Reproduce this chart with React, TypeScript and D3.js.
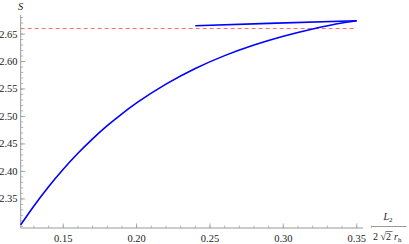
import React, { useEffect, useRef } from 'react';
import * as d3 from 'd3';

// lower branch of S against L2 / (2 sqrt2 rh)
const lowerX = [0.121, 0.13, 0.14, 0.15, 0.16, 0.17, 0.18, 0.19, 0.2, 0.22, 0.24, 0.26, 0.28, 0.3, 0.32, 0.34, 0.35];
const lowerS = [2.3027, 2.3372, 2.3722, 2.404, 2.433, 2.4593, 2.4832, 2.5049, 2.5247, 2.5589, 2.5873, 2.6107, 2.63, 2.646, 2.6592, 2.6701, 2.6742];

// upper branch, from the turning point back
const upperX = [0.35, 0.29, 0.24];
const upperS = [2.6742, 2.6694, 2.6652];

const plateau = 2.66;

const xTicks = [0.15, 0.2, 0.25, 0.3, 0.35];
const yTicks = [2.35, 2.4, 2.45, 2.5, 2.55, 2.6, 2.65];

function App() {
  const ref = useRef<SVGSVGElement>(null);

  useEffect(() => {
    const width = 409;
    const height = 244;
    const svg = d3.select(ref.current);
    svg.selectAll('*').remove();

    const x = d3.scaleLinear().domain([0.121, 0.35]).range([20.7, 356.7]);
    const y = d3.scaleLinear().domain([2.297, 2.675]).range([228, 20.3]);

    const axisColor = '#999';
    const font = "'Liberation Serif', 'DejaVu Serif', serif";

    // axes lines
    svg.append('line')
      .attr('x1', x(0.121)).attr('x2', 363)
      .attr('y1', y(2.297)).attr('y2', y(2.297))
      .attr('stroke', axisColor).attr('stroke-width', 1);
    svg.append('line')
      .attr('x1', x(0.121)).attr('x2', x(0.121))
      .attr('y1', y(2.297)).attr('y2', 15)
      .attr('stroke', axisColor).attr('stroke-width', 1);

    // minor and major ticks on x
    const xMinor = d3.range(0.13, 0.3601, 0.01);
    svg.selectAll('.xminor').data(xMinor).enter().append('line')
      .attr('x1', d => x(d)).attr('x2', d => x(d))
      .attr('y1', y(2.297)).attr('y2', y(2.297) - 2.5)
      .attr('stroke', axisColor).attr('stroke-width', 0.7);
    svg.selectAll('.xmajor').data(xTicks).enter().append('line')
      .attr('x1', d => x(d)).attr('x2', d => x(d))
      .attr('y1', y(2.297)).attr('y2', y(2.297) - 4.5)
      .attr('stroke', axisColor).attr('stroke-width', 0.8);
    svg.selectAll('.xlab').data(xTicks).enter().append('text')
      .attr('x', d => x(d)).attr('y', 242)
      .attr('text-anchor', 'middle')
      .attr('font-family', font).attr('font-size', 10.5).attr('fill', '#222')
      .text(d => d.toFixed(2));

    // ticks on y
    const yMinor = d3.range(2.30, 2.6801, 0.01);
    svg.selectAll('.yminor').data(yMinor).enter().append('line')
      .attr('x1', x(0.121)).attr('x2', x(0.121) + 2.5)
      .attr('y1', d => y(d)).attr('y2', d => y(d))
      .attr('stroke', axisColor).attr('stroke-width', 0.7);
    svg.selectAll('.ymajor').data(yTicks).enter().append('line')
      .attr('x1', x(0.121)).attr('x2', x(0.121) + 4.5)
      .attr('y1', d => y(d)).attr('y2', d => y(d))
      .attr('stroke', axisColor).attr('stroke-width', 0.8);
    svg.selectAll('.ylab').data(yTicks).enter().append('text')
      .attr('x', 17.5).attr('y', d => y(d) + 3.5)
      .attr('text-anchor', 'end')
      .attr('font-family', font).attr('font-size', 10.5).attr('fill', '#222')
      .text(d => d.toFixed(2));

    // axis labels
    svg.append('text')
      .attr('x', 20.5).attr('y', 10)
      .attr('text-anchor', 'middle')
      .attr('font-family', font).attr('font-style', 'italic')
      .attr('font-size', 10.5).attr('fill', '#222')
      .text('S');

    const num = svg.append('text')
      .attr('x', 388).attr('y', 220)
      .attr('text-anchor', 'middle')
      .attr('font-family', font).attr('font-size', 10).attr('fill', '#222');
    num.append('tspan').attr('font-style', 'italic').text('L');
    num.append('tspan').attr('font-size', 7).attr('dy', 2).text('2');

    svg.append('line')
      .attr('x1', 371.5).attr('x2', 406.5)
      .attr('y1', 226.5).attr('y2', 226.5)
      .attr('stroke', '#999').attr('stroke-width', 1.2);

    const den = svg.append('text')
      .attr('x', 373).attr('y', 240)
      .attr('font-family', font).attr('font-size', 10).attr('fill', '#222');
    den.append('tspan').text('2 ');
    den.append('tspan').text('\u221A2');
    den.append('tspan').attr('font-style', 'italic').attr('dx', 3).text('r');
    den.append('tspan').attr('font-size', 7).attr('dy', 2).text('h');
    // bar over the 2 under the radical
    svg.append('line')
      .attr('x1', 385.5).attr('x2', 392.5)
      .attr('y1', 231.5).attr('y2', 231.5)
      .attr('stroke', '#222').attr('stroke-width', 0.6);

    // dashed plateau
    svg.append('line')
      .attr('x1', x(0.121)).attr('x2', x(0.35))
      .attr('y1', y(plateau)).attr('y2', y(plateau))
      .attr('stroke', '#ff6b6b').attr('stroke-width', 1)
      .attr('stroke-dasharray', '4,3');

    const line = d3.line<[number, number]>()
      .x(d => x(d[0]))
      .y(d => y(d[1]))
      .curve(d3.curveMonotoneX);

    const lower = lowerX.map((v, i) => [v, lowerS[i]] as [number, number]);
    const upper = upperX.map((v, i) => [v, upperS[i]] as [number, number]);

    svg.append('path')
      .attr('d', line(lower))
      .attr('fill', 'none').attr('stroke', '#0000ff')
      .attr('stroke-width', 1.6);
    svg.append('path')
      .attr('d', line(upper.slice().reverse()))
      .attr('fill', 'none').attr('stroke', '#0000ff')
      .attr('stroke-width', 1.6);

    svg.attr('width', width).attr('height', height);
  }, []);

  return (
    <svg ref={ref} width={409} height={244}
      style={{ position: 'absolute', left: 0, top: 0, background: '#fff' }} />
  );
}

export default App;
